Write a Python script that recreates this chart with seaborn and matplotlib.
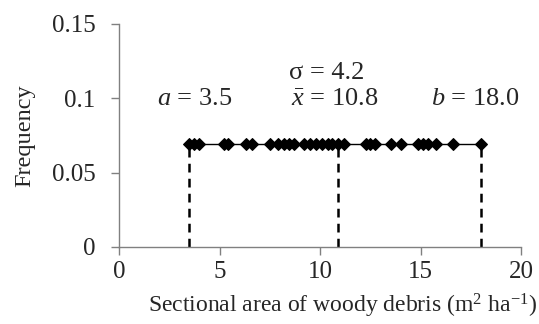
import numpy as np
import pandas as pd
import matplotlib.pyplot as plt
import seaborn as sns

# woody debris sectional area values (m2/ha), uniform frequency
area = [3.5, 3.7, 3.95, 5.2, 5.4, 6.3, 6.6, 7.5, 7.9, 8.2, 8.45, 8.7,
        9.2, 9.5, 9.8, 10.1, 10.4, 10.6, 10.9, 11.2, 12.3, 12.5, 12.75,
        13.5, 14.0, 14.85, 15.1, 15.35, 15.75, 16.6, 18.0]
freq = [0.069] * len(area)
marks = [3.5, 10.9, 18.0]  # a, mean, b
x_ticks = [0, 5, 10, 15, 20]
y_ticks = [0, 0.05, 0.1, 0.15]
y_labels = ["0", "0.05", "0.1", "0.15"]

sns.set_style("ticks")
plt.rcParams['font.family'] = ['Liberation Serif', 'DejaVu Serif']
plt.rcParams['mathtext.fontset'] = 'custom'
plt.rcParams['mathtext.rm'] = 'Liberation Serif'
plt.rcParams['mathtext.it'] = 'Liberation Serif:italic'

df = pd.DataFrame({"area": area, "freq": freq})

fig = plt.figure(figsize=(5.39, 3.24), dpi=100)
ax = fig.add_axes([0.221, 0.238, 0.746, 0.688])

sns.lineplot(data=df, x="area", y="freq", ax=ax, color="black", linewidth=1,
             marker="D", markersize=6.5, markeredgecolor="black", sort=True)
ax.vlines(marks, 0, freq[0], colors="black", linestyles=(0, (3.5, 2.5)), linewidth=1.8)

ax.text(10.3, 0.117, "σ = 4.2", ha="center", va="center", fontsize=19)
ax.text(3.73, 0.0995, r"$a$ = 3.5", ha="center", va="center", fontsize=19)
ax.text(10.7, 0.0995, r"$\bar{x}$ = 10.8", ha="center", va="center", fontsize=19)
ax.text(17.73, 0.0995, r"$b$ = 18.0", ha="center", va="center", fontsize=19)

ax.set_xlim(0, 20)
ax.set_ylim(0, 0.15)
ax.set_xticks(x_ticks)
ax.set_yticks(y_ticks)
ax.set_yticklabels(y_labels)
ax.tick_params(labelsize=18, length=6, width=1, color="#808080")
ax.tick_params(axis="y", pad=11)
ax.tick_params(axis="x", pad=4)
ax.set_xlabel(r"Sectional area of woody debris (m$^2$ ha$^{\mathregular{-1}}$)", fontsize=17)
ax.xaxis.set_label_coords(0.555, -0.2)
ax.set_ylabel("Frequency", fontsize=17.5, labelpad=12)
for s in ["left", "bottom"]:
    ax.spines[s].set_color("#808080")
    ax.spines[s].set_linewidth(1)
sns.despine(ax=ax)

fig.savefig("out.png", dpi=100)
